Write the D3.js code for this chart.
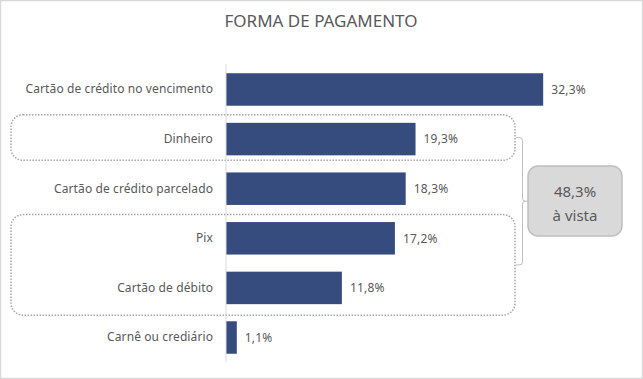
<!DOCTYPE html>
<html><head><meta charset="utf-8">
<script src="https://cdn.jsdelivr.net/npm/d3@7/dist/d3.min.js"></script>
<style>html,body{margin:0;padding:0;background:#fff;}svg{display:block;}</style>
</head><body>
<svg id="chart" width="643" height="379"></svg>
<script>
const title = "FORMA DE PAGAMENTO";
const categories = ["Cartão de crédito no vencimento","Dinheiro","Cartão de crédito parcelado","Pix","Cartão de débito","Carnê ou crediário"];
const values = [32.3, 19.3, 18.3, 17.2, 11.8, 1.1];
const groups = [["Dinheiro"],["Pix","Cartão de débito"]];
const calloutLines = ["48,3%","à vista"];

const W = 643, H = 379;
const font = "'Noto Sans', sans-serif";
const txt = "#595959";
const svg = d3.select("#chart");

svg.append("rect").attr("x",0.5).attr("y",0.5).attr("width",W-1).attr("height",H-1)
  .attr("fill","#fff").attr("stroke","#d9d9d9").attr("stroke-width",1.5);

svg.append("text").attr("x",321).attr("y",27).attr("text-anchor","middle")
  .attr("font-family",font).attr("font-size",17).attr("fill",txt).text(title);

const x = d3.scaleLinear().domain([0,35]).range([226, 226+35*9.82]);
const y = d3.scaleBand().domain(categories).range([64.7, 362.3]).paddingInner(0.345).paddingOuter(0.172);
const bw = y.bandwidth();

const fmt = v => d3.format(".1f")(v).replace(".", ",") + "%";
const padTop = [8, 7.5], padBot = [5, 11];
const boxes = groups.map((g,i) => {
  const y0 = y(g[0]) - padTop[i], y1 = y(g[g.length-1]) + bw + padBot[i];
  return {y0, y1, c:(y0+y1)/2};
});
boxes.forEach(b => {
  svg.append("rect").attr("x",11).attr("y",b.y0).attr("width",515-11).attr("height",b.y1-b.y0)
    .attr("rx",12).attr("ry",12).attr("fill","none").attr("stroke","#a6a6a6")
    .attr("stroke-width",1.5).attr("stroke-dasharray","1.5,1.5");
});

// bars
svg.append("g").selectAll("rect").data(categories).join("rect")
  .attr("x", x(0)).attr("y", d => y(d)).attr("height", bw)
  .attr("width", (d,i) => x(values[i]) - x(0)).attr("fill","#374c7e");

// axis
const axis = d3.axisLeft(y).tickSize(0).tickPadding(13);
const ag = svg.append("g").attr("transform",`translate(${x(0)},0)`).call(axis);
ag.select(".domain").attr("stroke","#d9d9d9").attr("d",`M0,64V362`);
ag.selectAll("text").attr("font-family",font).attr("font-size",12).attr("letter-spacing","0.1px").attr("fill",txt);

// value labels
svg.append("g").selectAll("text").data(categories).join("text")
  .attr("x",(d,i)=>x(values[i])+8).attr("y",d=>y(d)+bw/2).attr("dy","0.35em")
  .attr("font-family",font).attr("font-size",12).attr("letter-spacing","0.2px").attr("fill",txt)
  .text((d,i)=>fmt(values[i]));

// brace
const g1c = boxes[0].c, g2c = boxes[1].c;
const mid = (g1c+g2c)/2;
const bx = 522.5;
svg.append("path").attr("fill","none").attr("stroke","#bfbfbf").attr("stroke-width",1)
  .attr("d",`M516,${g1c}H${bx-3}Q${bx},${g1c} ${bx},${g1c+3}V${mid-3}Q${bx},${mid} ${bx+3},${mid}H528`+
    `M${bx+3},${mid}Q${bx},${mid} ${bx},${mid+3}V${g2c-3}Q${bx},${g2c} ${bx-3},${g2c}H516`);

// callout box
svg.append("rect").attr("x",528).attr("y",166).attr("width",94).attr("height",70)
  .attr("rx",10).attr("ry",10).attr("fill","#d9d9d9").attr("stroke","#bfbfbf").attr("stroke-width",1.5);
svg.append("g").selectAll("text").data(calloutLines).join("text")
  .attr("x",575).attr("y",(d,i)=>192+i*24).attr("dy","0.35em").attr("text-anchor","middle")
  .attr("font-family",font).attr("font-size",15).attr("fill",txt).text(d=>d);
</script>
</body></html>
